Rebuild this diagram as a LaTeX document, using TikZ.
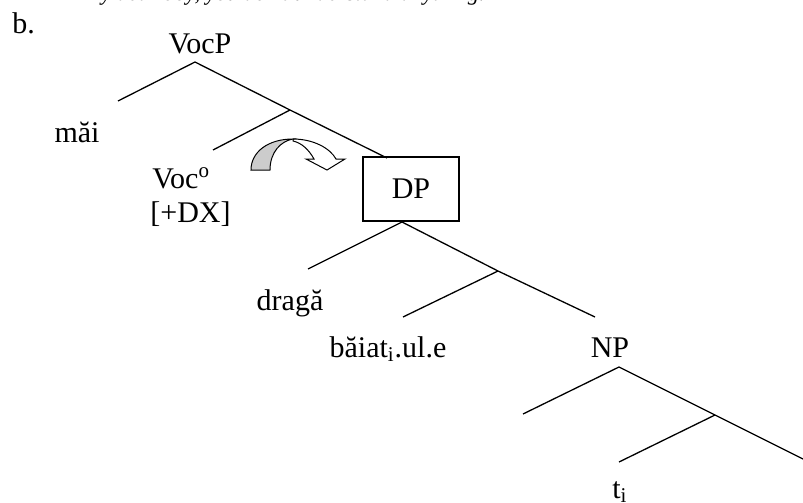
\documentclass[tikz,border=0pt]{standalone}
\usepackage{fontspec}
\setmainfont{Liberation Serif}
\begin{document}
\begin{tikzpicture}[x=0.5pt,y=-0.5pt,
  lbl/.style={inner sep=0pt, font=\fontsize{15}{18}\selectfont},
  br/.style={line width=0.65pt},
  boxed/.style={draw, line width=0.65pt, minimum width=48pt, minimum height=32pt, inner sep=0pt}]
\useasboundingbox (0,0) rectangle (803,503);
\clip (0,0) rectangle (803,503);
% cut-off line above
\node[anchor=base east, inner sep=0pt, font=\fontsize{11.2}{13}\selectfont\itshape] (quote) at (485,0.5) {My dear boy, you don’t understand anything.};
% labels
\node[lbl, anchor=base west] (b) at (12,33) {b.};
\node[lbl, anchor=base] (vocp) at (200,53) {VocP};
\node[lbl, anchor=base] (mai) at (77,142) {măi};
\node[lbl, anchor=base west] (voc) at (152,188) {Voc\textsuperscript{o}};
\node[lbl, anchor=base west] (dx) at (150,222) {[+DX]};
\node[lbl, boxed] (dp) at (411,189) {DP\hspace{8pt}};
\node[lbl, anchor=base] (draga) at (290,310) {dragă};
\node[lbl, anchor=base] (baiat) at (388,357) {băiat\textsubscript{i}.ul.e};
\node[lbl, anchor=base] (np) at (610,357) {NP};
\node[lbl, anchor=base west] (ti) at (612,498) {t\textsubscript{i}};
% tree points
\coordinate (vocpA) at (195,62);
\coordinate (vocpL) at (118,101);
\coordinate (m1) at (290,110);
\coordinate (m1L) at (213,150);
\coordinate (dpT) at (387,158);
\coordinate (dpB) at (402,222);
\coordinate (dpL) at (308,269);
\coordinate (m2) at (498,271);
\coordinate (m2L) at (403,317);
\coordinate (m2R) at (595,317);
\coordinate (npA) at (619,367);
\coordinate (npL) at (523,414);
\coordinate (m3) at (715,415);
\coordinate (m3L) at (619,462);
\coordinate (m3R) at (805,460);
% branches
\draw[br] (vocpL) -- (vocpA) -- (m1) -- (dpT);
\draw[br] (m1) -- (m1L);
\draw[br] (dpL) -- (dpB) -- (m2) -- (m2R);
\draw[br] (m2) -- (m2L);
\draw[br] (npL) -- (npA) -- (m3) -- (m3R);
\draw[br] (m3) -- (m3L);
% curved block arrow
\filldraw[fill=white, draw=black, line width=0.5pt, line join=miter]
  (293,139) .. controls (313,139) and (330,148) .. (336,159) -- (345,159) -- (327,170) -- (306,159) -- (314,159)
  .. controls (309,150) and (302,143) .. (293,141) -- cycle;
\filldraw[fill=gray!40, draw=black, line width=0.5pt]
  (251,170) .. controls (251,152) and (268,139) .. (293,139)
  .. controls (281,141) and (270,152) .. (270,170) -- cycle;
\end{tikzpicture}
\end{document}
